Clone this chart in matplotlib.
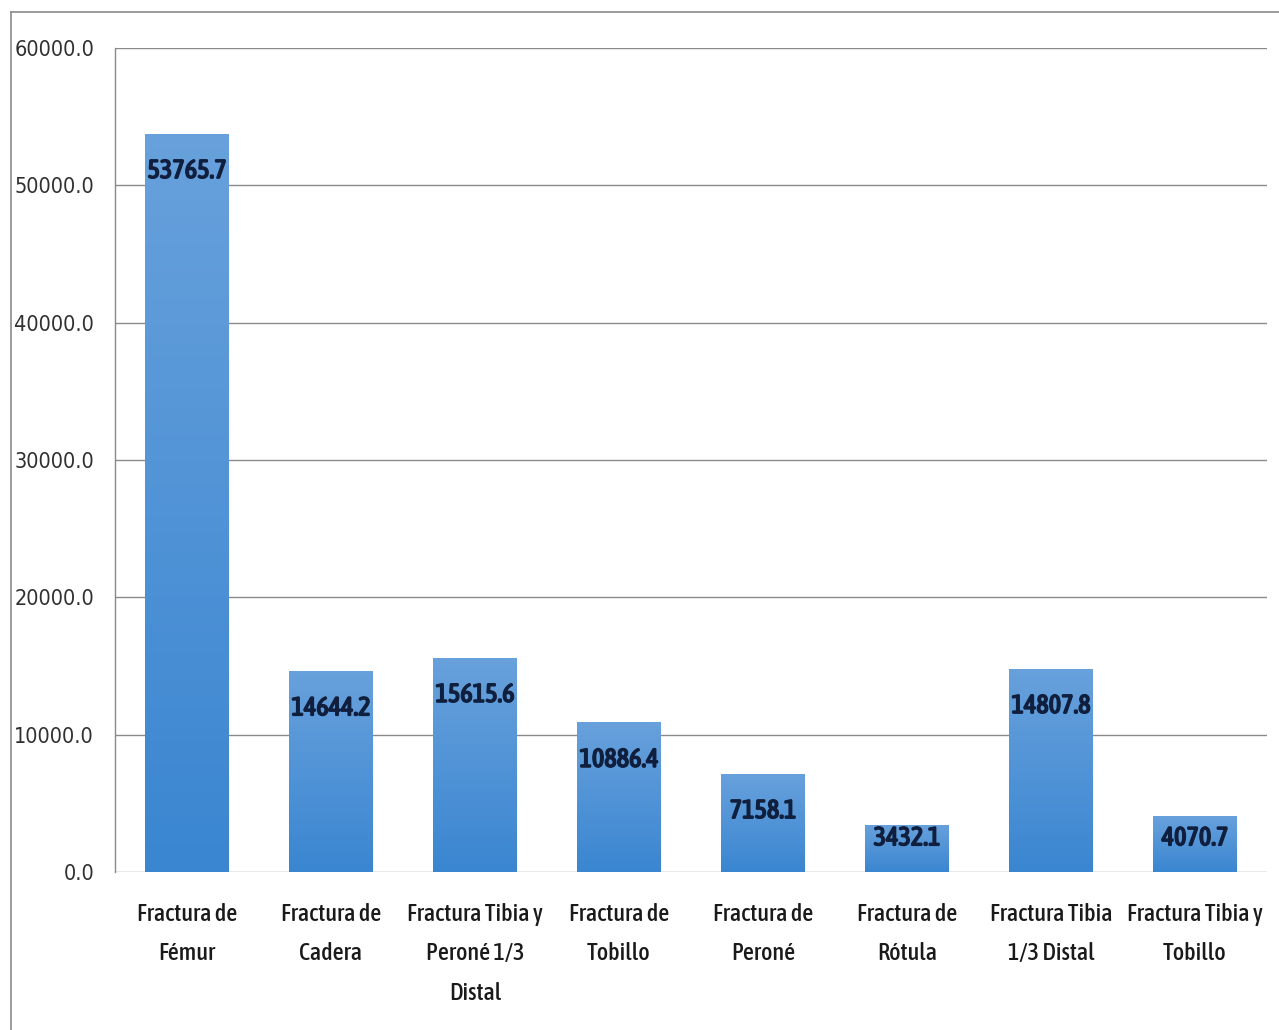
import numpy as np
import matplotlib
matplotlib.use("Agg")
import matplotlib.pyplot as plt
from matplotlib.lines import Line2D
from matplotlib import font_manager
from matplotlib import patheffects
from matplotlib.colors import LinearSegmentedColormap

categories = ["Fractura de\nFémur", "Fractura de\nCadera", "Fractura Tibia y\nPeroné 1/3\nDistal",
              "Fractura de\nTobillo", "Fractura de\nPeroné", "Fractura de\nRótula",
              "Fractura Tibia\n1/3 Distal", "Fractura Tibia y\nTobillo"]
values = [53765.7, 14644.2, 15615.6, 10886.4, 7158.1, 3432.1, 14807.8, 4070.7]
yticks = [0, 10000, 20000, 30000, 40000, 50000, 60000]

# find narrow/condensed upright fonts if installed
narrow_file = None
narrow_med_file = None
narrow_bold_file = None
for f in font_manager.fontManager.ttflist:
    n = f.name.lower()
    st = str(f.stretch).lower()
    if f.style != "normal":
        continue
    if ("narrow" in n or "condensed" in n or "condensed" in st) and "semi" not in st:
        w = f.weight
        if isinstance(w, str):
            w = {"bold": 700, "normal": 400, "regular": 400, "book": 400,
                 "medium": 500, "semibold": 600, "demibold": 600}.get(w, 400)
        if w == 700:
            narrow_bold_file = narrow_bold_file or f.fname
        elif 500 <= w <= 600:
            narrow_med_file = narrow_med_file or f.fname
        elif 350 <= w <= 450:
            narrow_file = narrow_file or f.fname

if narrow_file:
    fp_reg = font_manager.FontProperties(fname=narrow_file)
    ysize = 15.5
else:
    fp_reg = font_manager.FontProperties(family="Liberation Sans")
    ysize = 13
if narrow_med_file:
    fp_cat = font_manager.FontProperties(fname=narrow_med_file)
    csize, lsp = 17.5, 1.93
    fp_val, vsize, vstroke = fp_cat, 19, 0.9
elif narrow_bold_file:
    fp_cat = font_manager.FontProperties(fname=narrow_bold_file)
    csize, lsp = 14, 2.3
    fp_val, vsize, vstroke = fp_cat, 13.8, 0
else:
    fp_cat = fp_reg
    csize, lsp = 13, 2.4
    fp_val = font_manager.FontProperties(family="Liberation Sans", weight="bold")
    vsize, vstroke = 12, 0

fig = plt.figure(figsize=(12.79, 10.30), dpi=100)
ax = fig.add_axes([115/1279, 1-872/1030, (1267-115)/1279, (872-48)/1030])

x = np.arange(len(values))
bars = ax.bar(x, values, width=0.58, color="#4a8fd6", zorder=2)

grad = np.linspace(0, 1, 256).reshape(-1, 1)
cmap = LinearSegmentedColormap.from_list("g", ["#3a86d1", "#68a1dc"])
for b in bars:
    im = ax.imshow(grad, cmap=cmap, aspect="auto", origin="lower",
                   extent=[b.get_x(), b.get_x() + b.get_width(), 0, b.get_height()], zorder=3)
    im.set_clip_path(b)

ax.set_xlim(-0.5, len(values) - 0.5)
ax.set_ylim(0, 60000)
ax.set_yticks(yticks)
ax.set_yticklabels([f"{v:.1f}" for v in yticks])
for t in ax.get_yticklabels():
    t.set_fontproperties(fp_reg)
    t.set_fontsize(ysize)
    t.set_color("#303030")
ax.set_xticks(x)
ax.set_xticklabels(categories, linespacing=lsp, va="top")
for t in ax.get_xticklabels():
    t.set_fontproperties(fp_cat)
    t.set_fontsize(csize)
    t.set_color("#1a1a1a")
ax.tick_params(axis="both", length=0)
ax.tick_params(axis="y", pad=15)
ax.tick_params(axis="x", pad=22)
ax.grid(axis="y", color="#8a8a8a", linewidth=1, zorder=0)
ax.set_axisbelow(True)
for s in ["top", "right", "bottom"]:
    ax.spines[s].set_visible(False)
ax.spines["left"].set_color("#8a8a8a")
ax.spines["left"].set_linewidth(1)

for xi, v in zip(x, values):
    ly = max(v - 2700, 2480)
    t = ax.text(xi, ly, f"{v:.1f}", ha="center", va="center", fontproperties=fp_val,
                fontsize=vsize, color="#0f1f3d", zorder=5)
    if vstroke:
        t.set_path_effects([patheffects.withStroke(linewidth=vstroke, foreground="#0f1f3d")])

fig.add_artist(Line2D([11/1279, 11/1279], [0, 1-12/1030], color="#8a8a8a", linewidth=1.2))
fig.add_artist(Line2D([11/1279, 1], [1-12/1030, 1-12/1030], color="#8a8a8a", linewidth=1.2))

fig.savefig("out.png", dpi=100)
